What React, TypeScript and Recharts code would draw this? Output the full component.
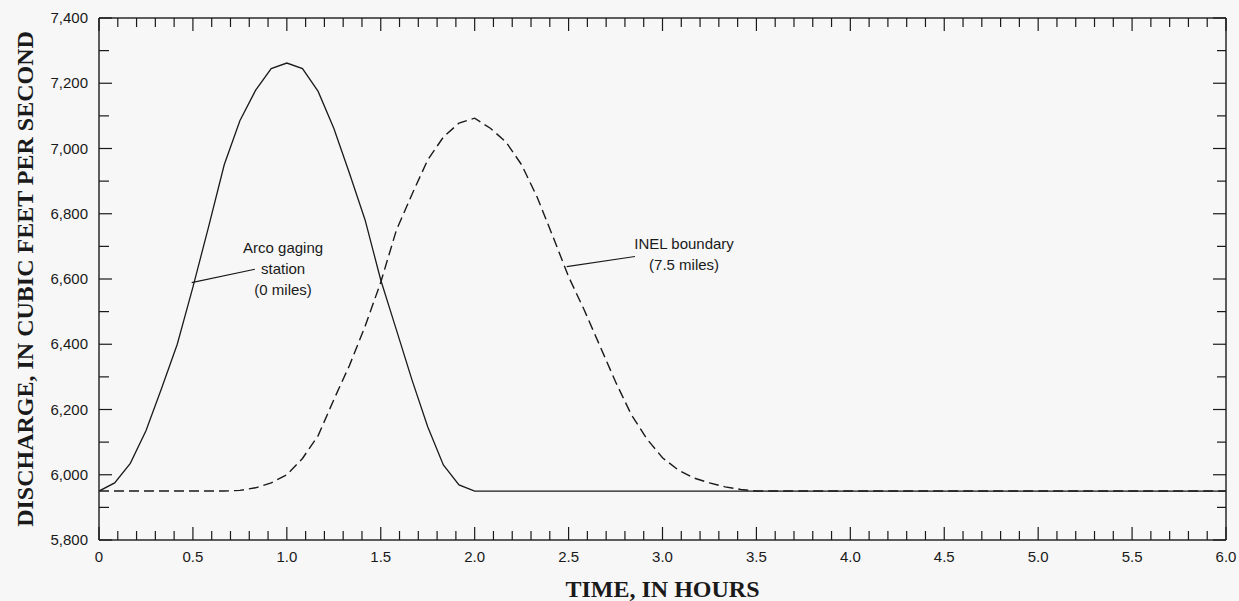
import { LineChart, Line, XAxis, YAxis, ReferenceLine, ReferenceDot } from "recharts";

// time since release, minutes (axis shows hours)
const minutes = [
  0, 5, 10, 15, 20, 25, 30, 35, 40, 45, 50, 55, 60, 65, 70, 75, 80, 85, 90, 95, 100, 105,
  110, 115, 120, 125, 130, 135, 140, 145, 150, 155, 160, 165, 170, 175, 180, 185, 190, 195,
  200, 205, 210, 360,
];

// Arco gaging station (0 miles)
const arcoCfs = [
  5950, 5975, 6035, 6135, 6265, 6400, 6575, 6760, 6950, 7085, 7178, 7245, 7262, 7245, 7175,
  7062, 6924, 6781, 6597, 6444, 6290, 6147, 6030, 5969, 5950, 5950, 5950, 5950, 5950, 5950,
  5950, 5950, 5950, 5950, 5950, 5950, 5950, 5950, 5950, 5950, 5950, 5950, 5950, 5950,
];

// INEL boundary (7.5 miles)
const inelCfs = [
  5950, 5950, 5950, 5950, 5950, 5950, 5950, 5950, 5950, 5952, 5960, 5975, 6000, 6050, 6120,
  6230, 6335, 6455, 6590, 6750, 6860, 6965, 7035, 7078, 7093, 7062, 7020, 6950, 6850, 6730,
  6607, 6505, 6395, 6285, 6185, 6110, 6052, 6015, 5990, 5975, 5963, 5955, 5950, 5950,
];

const xMajorLabels = ["0", "0.5", "1.0", "1.5", "2.0", "2.5", "3.0", "3.5", "4.0", "4.5", "5.0", "5.5", "6.0"];
const yMajorLabels = ["5,800", "6,000", "6,200", "6,400", "6,600", "6,800", "7,000", "7,200", "7,400"];

const xTicks = Array.from({ length: 61 }, (_, i) => i * 6);
const yTicks = Array.from({ length: 17 }, (_, i) => 5800 + i * 100);

// label text anchors in data units
const arcoLabel = { m: 58.8, v: 6631, lines: ["Arco gaging", "station", "(0 miles)"] };
const arcoLeader = [{ x: 29.6, y: 6589 }, { x: 49.8, y: 6630 }];
const inelLabel = { m: 186.9, v: 6676, lines: ["INEL boundary", "(7.5 miles)"] };
const inelLeader = [{ x: 149.4, y: 6638 }, { x: 171.2, y: 6669 }];

const data = minutes.map((m, i) => ({ m, arco: arcoCfs[i], inel: inelCfs[i] }));

const INK = "#1a1a1a";
const SANS = "'Liberation Sans', Arial, Helvetica, sans-serif";
const SERIF = "'Liberation Serif', 'Times New Roman', serif";

const BottomTick = (props: any) => {
  const { x, y, payload } = props;
  const major = payload.value % 30 === 0;
  return (
    <g>
      <line x1={x} x2={x} y1={y} y2={y - (major ? 13 : 9)} stroke={INK} strokeWidth={1.2} />
      {major && (
        <text x={x} y={y + 22} textAnchor="middle" fontSize={15} fill={INK} fontFamily={SANS}>
          {xMajorLabels[payload.value / 30]}
        </text>
      )}
    </g>
  );
};

const TopTick = (props: any) => {
  const { x, y, payload } = props;
  const major = payload.value % 30 === 0;
  return <line x1={x} x2={x} y1={y} y2={y + (major ? 13 : 9)} stroke={INK} strokeWidth={1.2} />;
};

const LeftTick = (props: any) => {
  const { x, y, payload } = props;
  const major = payload.value % 200 === 0;
  return (
    <g>
      <line x1={x} x2={x + (major ? 13 : 10)} y1={y} y2={y} stroke={INK} strokeWidth={1.2} />
      {major && (
        <text x={x - 11} y={y} dy={5} textAnchor="end" fontSize={15} fill={INK} fontFamily={SANS}>
          {yMajorLabels[(payload.value - 5800) / 200]}
        </text>
      )}
    </g>
  );
};

const RightTick = (props: any) => {
  const { x, y, payload } = props;
  const major = payload.value % 200 === 0;
  return <line x1={x} x2={x - (major ? 13 : 9)} y1={y} y2={y} stroke={INK} strokeWidth={1.2} />;
};

const multiLine = (lines: string[], step: number) => (props: any) => {
  const { viewBox } = props;
  const cx = viewBox.x + (viewBox.width || 0) / 2;
  const cy = viewBox.y + (viewBox.height || 0) / 2;
  const start = -((lines.length - 1) * step) / 2;
  return (
    <text textAnchor="middle" fontSize={15} fill={INK} fontFamily={SANS}>
      {lines.map((l, i) => (
        <tspan key={l} x={cx} y={cy + start + i * step} dy={5}>
          {l}
        </tspan>
      ))}
    </text>
  );
};

const axisLine = { stroke: "#2a2a2a", strokeWidth: 1.5 };

export default function App() {
  return (
    <div style={{ position: "absolute", left: 0, top: 0, width: 1239, height: 601, background: "#f7f7f7" }}>
      <LineChart width={1239} height={601} data={data} margin={{ top: 0, right: 0, bottom: 0, left: 0 }}>
        <XAxis
          dataKey="m"
          type="number"
          domain={[0, 360]}
          allowDataOverflow
          ticks={xTicks}
          interval={0}
          height={61}
          tickSize={0}
          tickMargin={0}
          tickLine={false}
          axisLine={axisLine}
          tick={<BottomTick />}
          label={{
            content: (p: any) => (
              <text
                x={p.viewBox.x + p.viewBox.width / 2}
                y={p.viewBox.y + 57}
                textAnchor="middle"
                fontSize={24}
                fontWeight="bold"
                fill={INK}
                fontFamily={SERIF}
              >
                TIME, IN HOURS
              </text>
            ),
          }}
        />
        <XAxis
          xAxisId="top"
          orientation="top"
          dataKey="m"
          type="number"
          domain={[0, 360]}
          allowDataOverflow
          ticks={xTicks}
          interval={0}
          height={18}
          tickSize={0}
          tickMargin={0}
          tickLine={false}
          axisLine={axisLine}
          tick={<TopTick />}
        />
        <YAxis
          type="number"
          domain={[5800, 7400]}
          allowDataOverflow
          ticks={yTicks}
          interval={0}
          width={99}
          tickSize={0}
          tickMargin={0}
          tickLine={false}
          axisLine={axisLine}
          tick={<LeftTick />}
          label={{
            content: (p: any) => {
              const cy = p.viewBox.y + p.viewBox.height / 2;
              return (
                <text
                  x={33}
                  y={cy}
                  transform={`rotate(-90, 33, ${cy})`}
                  textAnchor="middle"
                  fontSize={24}
                  fontWeight="bold"
                  fill={INK}
                  fontFamily={SERIF}
                >
                  DISCHARGE, IN CUBIC FEET PER SECOND
                </text>
              );
            },
          }}
        />
        <YAxis
          yAxisId="right"
          orientation="right"
          type="number"
          domain={[5800, 7400]}
          allowDataOverflow
          ticks={yTicks}
          interval={0}
          width={13}
          tickSize={0}
          tickMargin={0}
          tickLine={false}
          axisLine={axisLine}
          tick={<RightTick />}
        />
        <Line
          type="linear"
          dataKey="inel"
          stroke={INK}
          strokeWidth={1.4}
          strokeDasharray="10 5"
          dot={false}
          isAnimationActive={false}
        />
        <Line type="linear" dataKey="arco" stroke={INK} strokeWidth={1.3} dot={false} isAnimationActive={false} />
        <ReferenceLine segment={arcoLeader} stroke={INK} strokeWidth={1.2} />
        <ReferenceLine segment={inelLeader} stroke={INK} strokeWidth={1.2} />
        <ReferenceDot
          x={arcoLabel.m}
          y={arcoLabel.v}
          r={0}
          fill="none"
          stroke="none"
          label={{ content: multiLine(arcoLabel.lines, 21) }}
        />
        <ReferenceDot
          x={inelLabel.m}
          y={inelLabel.v}
          r={0}
          fill="none"
          stroke="none"
          label={{ content: multiLine(inelLabel.lines, 21) }}
        />
      </LineChart>
    </div>
  );
}
